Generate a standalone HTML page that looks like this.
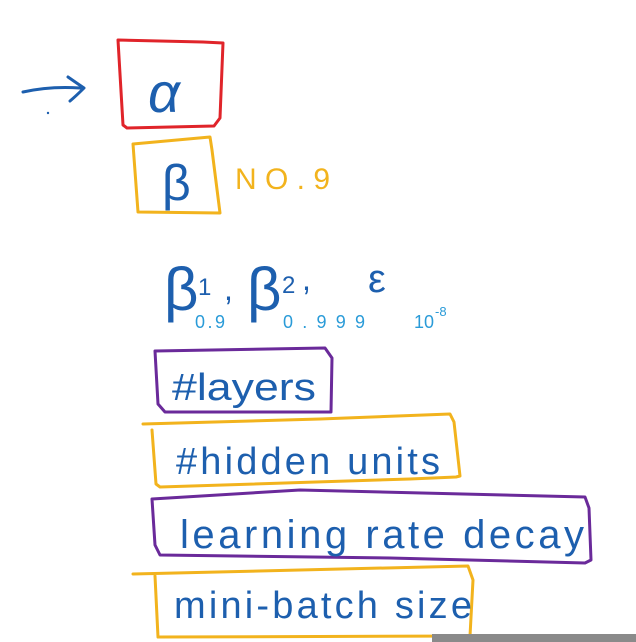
<!DOCTYPE html>
<html><head><style>
html,body{margin:0;padding:0;background:#fff;}
svg{display:block;}
text{font-family:"Liberation Sans",sans-serif;}
</style></head><body>
<svg width="636" height="642" viewBox="0 0 636 642" xmlns="http://www.w3.org/2000/svg">
<g fill="none" stroke-linecap="round" stroke-linejoin="round">
<path d="M23 92 Q50 86 80 88 M68 77 Q78 84 84 88 Q76 96 70 101" stroke="#1d5fae" stroke-width="3"/>
<circle cx="48" cy="113" r="1.2" fill="#1d5fae" stroke="none"/>
<path d="M118 40 L203 42 L223 43 L220 118 L214 126 L127 128 L123 125 Z" stroke="#e0242a" stroke-width="3"/>
<path d="M133 144 L210 137 L212 150 L220 213 L138 212 Z" stroke="#f2b31d" stroke-width="3"/>
<path d="M155 351 L325 348 L332 358 L331 412 L165 412 L158 404 Z" stroke="#6a2a9a" stroke-width="3"/>
<path d="M143 424 L320 419 L450 414 L454 422 L460 476 L456 477 L410 479 L160 487 L156 484 L152 430" stroke="#f2b31d" stroke-width="3"/>
<path d="M152 499 L300 490 L585 497 L589 508 L591 560 L585 563 L390 558 L160 555 L155 545 Z" stroke="#6a2a9a" stroke-width="3"/>
<path d="M133 574 L300 570 L468 566 L473 580 L470 636 L158 637 L155 576" stroke="#f2b31d" stroke-width="3"/>
</g>
<g fill="#1d5fae">
<text x="148" y="112" font-size="56" font-style="italic">α</text>
<text x="162" y="200" font-size="50">β</text>
<text x="164" y="310" font-size="60">β</text>
<text x="198" y="295" font-size="24">1</text>
<text x="224" y="300" font-size="32">,</text>
<text x="247" y="310" font-size="60">β</text>
<text x="282" y="293" font-size="24">2</text>
<text x="302" y="290" font-size="32">,</text>
<text x="368" y="292" font-size="40">ε</text>
<text x="172" y="400" font-size="38" textLength="144" lengthAdjust="spacingAndGlyphs">#layers</text>
<text x="176" y="474" font-size="38" textLength="264" lengthAdjust="spacing">#hidden units</text>
<text x="180" y="548" font-size="40" textLength="404" lengthAdjust="spacing">learning rate decay</text>
<text x="174" y="618" font-size="38" textLength="298" lengthAdjust="spacing">mini-batch size</text>
</g>
<g fill="#2a9bd8">
<text x="195" y="328" font-size="18" textLength="30" lengthAdjust="spacing">0.9</text>
<text x="283" y="328" font-size="18" textLength="82" lengthAdjust="spacing">0.999</text>
<text x="414" y="328" font-size="18">10</text>
<text x="435" y="316" font-size="13">-8</text>
</g>
<text x="235" y="189" font-size="30" fill="#f2b31d" textLength="95" lengthAdjust="spacing">NO.9</text>
<rect x="432" y="634" width="204" height="8" fill="#8a8a8a"/>
</svg>
</body></html>
